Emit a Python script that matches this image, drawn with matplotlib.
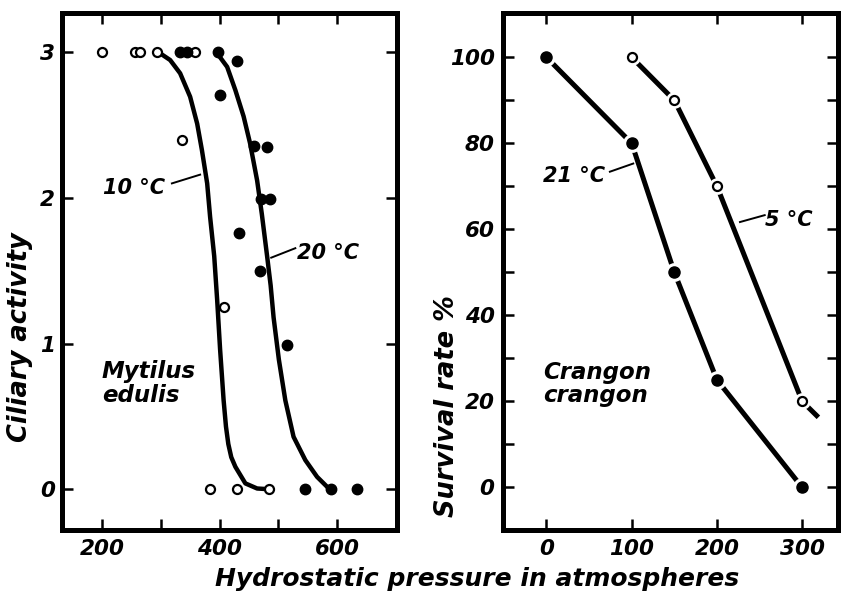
import matplotlib
matplotlib.use("Agg")
import matplotlib.pyplot as plt
from matplotlib.ticker import FixedLocator, MultipleLocator, FuncFormatter

# ---------------- data: left panel (Mytilus edulis) ----------------
m10_x = [200, 257, 265, 293, 359, 336, 407, 383, 430, 485]
m10_y = [3.0, 3.0, 3.0, 3.0, 3.0, 2.40, 1.25, 0.0, 0.0, 0.0]
m20_x = [333, 345, 398, 430, 400, 458, 480, 470, 486, 434, 469, 515, 546, 589, 634]
m20_y = [3.0, 3.0, 3.0, 2.94, 2.71, 2.36, 2.35, 1.99, 1.99, 1.76, 1.50, 0.99, 0.0, 0.0, 0.0]

# fitted curves
c10_x = [291, 299, 316, 333, 350, 362, 370, 379, 384, 391, 396, 401, 407, 411, 415, 420, 427, 444, 464, 484]
c10_y = [3.0, 2.993, 2.947, 2.856, 2.695, 2.51, 2.33, 2.10, 1.87, 1.60, 1.30, 0.96, 0.61, 0.43, 0.31, 0.22, 0.154, 0.04, 0.005, 0.0]
c20_x = [396, 413, 427, 441, 452, 464, 472, 481, 487, 492, 501, 512, 526, 546, 566, 586]
c20_y = [2.993, 2.90, 2.74, 2.56, 2.375, 2.12, 1.89, 1.60, 1.40, 1.18, 0.89, 0.61, 0.36, 0.20, 0.085, 0.005]

# ---------------- data: right panel (Crangon crangon) ----------------
c21_x = [0, 100, 150, 200, 300]
c21_y = [100, 80, 50, 25, 0]
c5_x = [100, 150, 200, 300]
c5_y = [100, 90, 70, 20]
c5_tail_x = [300, 319]
c5_tail_y = [20, 16.3]

left_xticks = [200, 300, 400, 500, 600]
left_xlabels = {200: "200", 400: "400", 600: "600"}
left_yticks = [0, 1, 2, 3]
right_xticks = [0, 100, 200, 300]
right_yticks = [0, 20, 40, 60, 80, 100]

FONT = "DejaVu Sans"
plt.rcParams["font.family"] = [FONT]
plt.rcParams["font.style"] = "oblique"
plt.rcParams["font.weight"] = "bold"

fig = plt.figure(figsize=(8.43, 5.97), dpi=100)
axL = fig.add_axes([62 / 843, 1 - 530 / 597, 335 / 843, 517 / 597])
axR = fig.add_axes([503 / 843, 1 - 530 / 597, 335 / 843, 517 / 597])

for ax in (axL, axR):
    for s in ax.spines.values():
        s.set_linewidth(3.6)
        s.set_capstyle("projecting")
    ax.tick_params(which="both", direction="in", top=True, right=True,
                   length=8, width=1.8, labelsize=15.5)
    for lab in ax.get_xticklabels() + ax.get_yticklabels():
        lab.set_fontstyle("oblique")

# left panel
axL.set_xlim(132, 702)
axL.set_ylim(-0.28, 3.27)
axL.xaxis.set_major_locator(FixedLocator(left_xticks))
axL.xaxis.set_major_formatter(FuncFormatter(lambda v, p: left_xlabels.get(int(round(v)), "")))
axL.yaxis.set_major_locator(FixedLocator(left_yticks))
axL.tick_params(axis="x", pad=6.5)
axL.tick_params(axis="y", pad=5)

line_kw = dict(color="black", lw=3.2, solid_capstyle="round", solid_joinstyle="round")
axL.plot(c10_x, c10_y, **line_kw)
axL.plot(c20_x, c20_y, **line_kw)
axL.plot(m10_x, m10_y, "o", ms=6.5, mfc="white", mec="black", mew=1.6, ls="none", zorder=4)
axL.plot(m20_x, m20_y, "o", ms=7.5, mfc="black", mec="black", ls="none", zorder=4)

txt = dict(fontsize=15, fontstyle="oblique", fontweight="bold", color="black")
sp = dict(fontsize=16.5, fontstyle="oblique", fontweight="bold", color="black")
axL.text(202, 2.07, "10 °C", ha="left", va="center", **txt)
axL.plot([319, 367], [2.10, 2.16], color="black", lw=1.4)
axL.text(532, 1.62, "20 °C", ha="left", va="center", **txt)
axL.plot([488, 529], [1.59, 1.655], color="black", lw=1.4)
axL.text(200, 0.89, "Mytilus\nedulis", ha="left", va="top", linespacing=1.05, **sp)
axL.set_ylabel("Ciliary activity", fontsize=18.5, fontstyle="oblique", fontweight="bold")
axL.yaxis.set_label_coords(-0.087, 0.373)

# right panel
axR.set_xlim(-51, 342)
axR.set_ylim(-9.9, 110.3)
axR.xaxis.set_major_locator(FixedLocator(right_xticks))
axR.yaxis.set_major_locator(FixedLocator(right_yticks))
axR.yaxis.set_minor_locator(MultipleLocator(10))
axR.tick_params(axis="x", pad=6.5)
axR.tick_params(axis="y", pad=6)

axR.plot(c21_x, c21_y, color="black", lw=3.6, solid_capstyle="butt", zorder=2)
axR.plot(c5_x + c5_tail_x[1:], c5_y + c5_tail_y[1:], color="black", lw=3.6, solid_capstyle="butt", zorder=2)
axR.plot(c21_x, c21_y, "o", ms=12.5, mfc="white", mec="white", ls="none", zorder=3)
axR.plot(c5_x, c5_y, "o", ms=11, mfc="white", mec="white", ls="none", zorder=3)
axR.plot(c21_x, c21_y, "o", ms=8, mfc="black", mec="black", ls="none", zorder=4)
axR.plot(c5_x, c5_y, "o", ms=6.5, mfc="white", mec="black", mew=1.6, ls="none", zorder=4)

axR.text(-4, 72.4, "21 °C", ha="left", va="center", **txt)
axR.plot([74.4, 101.8], [73.4, 75.3], color="black", lw=1.4)
axR.text(256, 62.2, "5 °C", ha="left", va="center", **txt)
axR.plot([227, 256], [61.7, 63.3], color="black", lw=1.4)
axR.text(-4, 29.5, "Crangon\ncrangon", ha="left", va="top", linespacing=1.05, **sp)
axR.set_ylabel("Survival rate %", fontsize=18.5, fontstyle="oblique", fontweight="bold")
axR.yaxis.set_label_coords(-0.127, 0.24)

fig.text(477 / 843, 1 - 579 / 597, "Hydrostatic pressure in atmospheres",
         ha="center", va="center", fontsize=18, fontstyle="oblique", fontweight="bold")

fig.savefig("out.png", dpi=100)
